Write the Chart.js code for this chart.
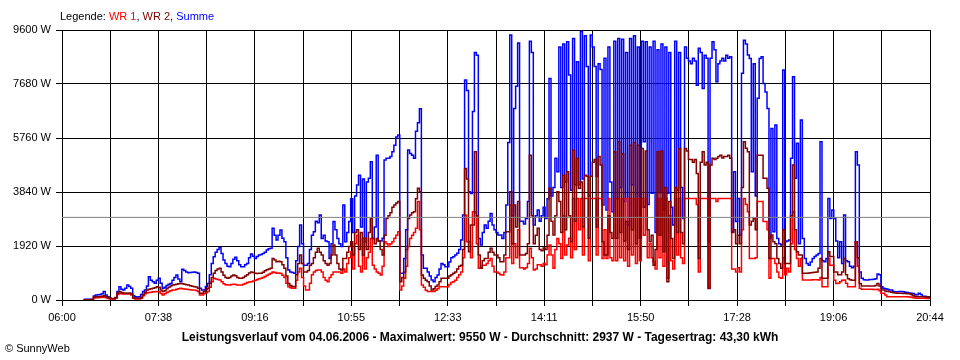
<!DOCTYPE html>
<html>
<head>
<meta charset="utf-8">
<title>Leistungsverlauf 04.06.2006</title>
<script src="https://cdn.jsdelivr.net/npm/chart.js@4/dist/chart.umd.min.js"></script>
<style>
  body { margin: 0; background: #fff; }
  #wrap { position: relative; width: 960px; height: 360px; font-family: 'Liberation Sans', Arial, sans-serif; font-size: 11px; color: #000; }
  #legend { position: absolute; left: 60px; top: 10px; white-space: nowrap; }
  #title { position: absolute; left: 0; top: 330px; width: 960px; text-align: center; font-weight: bold; font-size: 12px; white-space: nowrap; }
  #copy { position: absolute; left: 5px; top: 342px; }
  canvas { position: absolute; left: 0; top: 0; }
</style>
</head>
<body>
<div id="wrap">
  <canvas id="chart" width="960" height="360"></canvas>
  <div id="legend">Legende: <span style="color:#ff0000">WR 1</span>, <span style="color:#800000">WR 2</span>, <span style="color:#0000ff">Summe</span></div>
  <div id="title">Leistungsverlauf vom 04.06.2006 - Maximalwert: 9550 W - Durchschnitt: 2937 W - Tagesertrag: 43,30 kWh</div>
  <div id="copy">&copy; SunnyWeb</div>
</div>
<script>
// minutes after 06:00, one reading every 2 minutes starting 06:22
const startMinute = 22;
const stepMinutes = 2;
const dayMinutes = 884; // 06:00 .. 20:44
const timeLabels = ['06:00', '07:38', '09:16', '10:55', '12:33', '14:11', '15:50', '17:28', '19:06', '20:44'];
const yTicks = [0, 1920, 3840, 5760, 7680, 9600];
const average = 2937;

const summe = [
  25,25,25,30,30,140,180,190,200,220,
  300,180,120,60,40,40,80,300,470,380,
  355,420,530,480,415,150,120,110,120,200,
  300,355,500,830,700,650,600,700,770,600,
  415,450,520,560,590,700,800,890,750,650,
  1090,1050,1000,970,980,990,1000,980,950,415,
  360,355,480,590,900,1300,1540,1700,1800,1870,
  1650,1420,1300,1200,1185,1300,1450,1520,1400,1250,
  1185,1185,1250,1300,1500,1640,1560,1480,1550,1600,
  1620,1650,1700,1780,1820,1840,2550,2300,2130,2300,
  2490,2200,2070,1500,1070,1000,980,950,1400,1900,
  2670,2000,1240,1240,1300,1800,2300,2430,2800,2750,
  3020,2190,2300,2100,2070,1480,2000,2790,2500,2190,
  2000,1900,3380,2070,2400,2790,3600,2400,3700,4090,
  4440,2600,4300,2070,4200,4330,4920,2190,2600,5150,
  2100,2100,2200,4980,5040,5040,5100,5270,5500,5800,
  5870,950,950,1480,2500,5330,5210,5150,5040,6000,
  6300,6800,1600,1125,1125,1000,850,710,650,800,
  890,1100,1300,1250,1185,1185,1350,1500,1540,1600,
  1660,1800,2130,3020,7820,7450,3850,3790,6700,8800,
  8700,2190,1960,2400,2670,2550,2800,3080,2670,2500,
  2400,2310,2310,2190,2400,3380,5600,9420,3000,6810,
  7600,9140,2800,2800,2700,2900,3500,9200,8800,2670,
  3000,3200,2800,3000,3300,2900,3600,7880,3700,4000,
  5040,4560,9000,4000,9100,4200,9180,8000,3900,9300,
  4100,8470,4100,9550,4300,9400,8300,3700,9420,9000,
  8300,4400,8400,8200,3380,8600,3200,9000,4200,3140,
  9200,3600,9300,4000,9270,3500,8800,2670,9300,4100,
  9400,3000,9000,3700,9200,5630,9180,3400,9000,3800,
  9200,2400,8900,3810,9100,3200,9000,3800,8800,3300,
  2670,9200,3900,8800,4000,2900,9000,8600,8500,8400,
  8600,8500,7640,8950,8800,7520,8700,8600,2070,8600,
  9180,8900,7760,8400,8500,8600,8500,8700,8600,8650,
  2430,4560,2790,3610,2310,8060,9240,9100,8710,8590,
  4560,8400,3700,7170,8590,8650,7700,7400,6810,2190,
  6100,2430,6220,2190,2000,1960,8180,2070,2100,2130,
  5040,7940,4330,5570,2000,6400,2190,1480,1300,1240,
  1350,1480,1550,1600,1650,5630,1400,1360,1480,3610,
  2900,3200,2900,2100,1500,2070,1300,3020,1400,1360,
  1200,1150,1200,5270,4800,1000,770,720,710,710,
  730,730,740,760,925,900,475,420,400,380,
  360,355,300,290,290,300,300,290,280,270,
  250,240,230,200,190,237,200,130,130,120,120,110
];

const wr2 = [
  12,12,12,15,15,110,120,120,125,130,
  150,120,90,60,55,55,90,250,300,270,
  250,250,240,250,220,80,60,60,60,100,
  200,280,355,380,400,420,440,470,450,360,
  300,330,400,450,500,530,540,560,580,590,
  580,560,540,530,510,490,470,460,420,240,
  240,300,370,415,600,800,950,1050,1100,1125,
  1000,880,800,770,800,850,890,860,800,770,
  770,800,850,900,960,1000,980,950,940,950,
  950,990,1040,1080,1100,1125,1480,1420,1360,1380,
  1360,1250,1125,850,590,520,480,470,900,1300,
  1600,1300,1000,1000,1050,1240,1300,1500,1700,1840,
  1700,1600,1400,1300,1240,1300,1600,1960,1600,1300,
  1100,1070,1480,1480,1700,1900,2070,1600,2400,2500,
  1800,2400,1600,2200,1800,2400,2900,2190,2000,2190,
  2100,1800,1600,2300,2900,3000,3100,3300,3380,3450,
  3500,650,800,1000,1800,2900,3020,3100,3140,3600,
  3970,3850,890,770,700,650,500,355,400,480,
  530,650,770,770,770,770,850,900,950,1000,
  1100,1200,1240,1800,4680,4300,1720,2670,2670,5270,
  3000,1600,1125,1400,1480,1480,1700,1840,1700,1600,
  1600,1500,1360,1360,1600,2430,2430,3850,2000,3380,
  2600,3500,1600,1600,1600,1650,2000,5150,3000,2000,
  2300,2550,1800,1750,1850,1800,2300,3970,2800,2310,
  3000,3850,3500,2400,4440,2500,4560,3000,2070,5330,
  2800,5040,3970,4200,2600,4440,4400,2200,4400,4900,
  5000,2600,5100,4800,2070,1600,1600,3000,2400,2200,
  5270,2200,5630,2400,5200,2100,2790,1800,5500,2500,
  5600,2000,5500,2200,5390,3300,5300,2500,2070,2300,
  1240,1800,5270,2300,5300,1720,4000,650,3500,2190,
  1480,4000,2400,5390,2400,2000,5390,5300,5000,5000,
  4900,5000,4500,1480,4900,5270,4800,4900,410,4800,
  5040,5000,5040,5100,5150,5050,5100,5100,5150,5040,
  2400,2500,2000,2300,2000,4000,5630,5400,5270,2670,
  2800,2900,2500,5150,5150,5150,4330,4330,3970,1480,
  2310,2070,2000,1480,1300,1125,2500,1300,1300,1300,
  3000,4800,2500,1720,1600,1600,950,950,950,960,
  970,980,990,1000,1125,1480,770,770,770,1720,
  1550,1550,1000,1000,900,900,1000,1480,900,760,
  720,700,700,2070,1500,590,500,500,500,500,
  500,500,500,520,590,500,355,355,320,300,
  290,280,260,250,240,240,240,230,230,220,
  220,200,150,130,120,120,120,120,110,110,100,100
];

const wr1 = [
  10,10,10,12,12,70,80,80,85,90,
  110,80,60,40,35,35,60,200,240,220,
  210,210,213,210,180,60,40,40,40,60,
  150,220,260,270,280,290,290,300,290,230,
  180,220,270,300,330,355,360,380,400,415,
  400,390,380,370,365,360,355,340,300,180,
  180,220,260,300,450,650,770,750,730,710,
  650,580,540,530,530,550,560,550,530,530,
  530,560,590,620,640,650,680,700,730,760,
  770,800,840,880,920,950,1000,980,950,960,
  940,880,800,600,470,440,420,415,700,1000,
  1125,800,500,355,355,600,900,1000,1050,1070,
  1070,1000,800,700,650,800,900,1000,1000,1000,
  1000,950,1100,1000,1300,1500,1720,1100,2000,2300,
  1200,1000,2200,1100,1500,1700,2190,1240,1100,1000,
  950,890,1200,2070,2000,1900,2000,2070,2200,2300,
  2430,355,500,770,1200,1900,2190,2300,2400,2550,
  3500,2500,530,450,350,300,300,300,300,350,
  400,470,470,470,470,470,550,620,650,700,
  800,900,1000,1500,3020,2070,2070,1500,3140,3140,
  2000,1125,1125,1240,1240,1300,1400,1480,1200,1000,
  1000,950,900,890,1000,1500,1500,3380,1300,2000,
  1500,2500,1150,1150,1100,1150,1300,1840,1500,1070,
  1100,1250,1250,1200,1300,1250,1600,1960,1600,1125,
  1800,2190,2000,1480,3000,1600,1960,2200,1500,3610,
  1800,3610,2500,3610,1600,3610,3610,1400,3610,3610,
  3610,1600,3610,3610,1480,2500,1480,3610,1500,1400,
  3610,1400,3610,1500,3610,1400,3610,1200,3610,1600,
  3610,1300,3610,1400,3610,2300,3610,1500,2000,1500,
  1360,1100,3610,1500,3610,1200,3610,770,3000,1400,
  1100,3610,1600,3610,1500,1300,3610,3610,3610,3610,
  3610,3610,3400,1000,3610,3610,3610,3610,415,3610,
  3610,3610,3500,3610,3610,3610,3610,3610,3610,3610,
  1100,1100,1000,1150,1000,2500,3610,3400,3140,1480,
  1480,1480,1500,3500,3500,3500,2790,2790,2500,770,
  1480,1480,1300,1000,800,770,1500,900,1125,1000,
  2000,3140,1800,1480,1200,1480,710,710,710,710,
  710,720,720,720,710,800,470,470,470,1480,
  1240,1240,700,590,600,650,700,710,600,470,
  470,470,470,2070,1200,415,380,380,380,380,
  380,380,370,370,380,330,240,240,180,120,
  120,120,120,120,120,120,120,120,120,120,
  110,100,80,70,60,60,60,60,60,55,50,50
];

Chart.defaults.font.family = "'Liberation Sans', Arial, sans-serif";
Chart.defaults.font.size = 11;
Chart.defaults.color = '#000';

function toPoints(values) {
  return values.map((v, j) => ({ x: startMinute + j * stepMinutes, y: v }));
}

function series(label, values, color) {
  return {
    label: label,
    data: toPoints(values),
    borderColor: color,
    borderWidth: 1.5,
    stepped: true,
    pointRadius: 0,
    fill: false
  };
}

// first dataset is painted last (on top): avg line, WR 2, WR 1, Summe
const datasets = [
  {
    label: 'Durchschnitt',
    data: [{ x: 0, y: average }, { x: dayMinutes, y: average }],
    borderColor: '#808080',
    borderWidth: 1,
    pointRadius: 0
  },
  series('WR 2', wr2, '#800000'),
  series('WR 1', wr1, '#ff0000'),
  series('Summe', summe, '#0000ff')
];

new Chart(document.getElementById('chart'), {
  type: 'line',
  data: { datasets: datasets },
  options: {
    responsive: false,
    animation: false,
    layout: { padding: { top: 30, right: 30, left: 0, bottom: 0 } },
    plugins: { legend: { display: false }, tooltip: { enabled: false } },
    scales: {
      x: {
        type: 'linear',
        min: 0,
        max: dayMinutes,
        afterBuildTicks: axis => {
          const n = (timeLabels.length - 1) * 2;
          axis.ticks = [];
          for (let k = 0; k <= n; k++) axis.ticks.push({ value: k * dayMinutes / n });
        },
        afterFit: axis => { axis.height = 60; },
        grid: { color: '#000', lineWidth: 1, tickLength: 6 },
        border: { color: '#000', width: 1 },
        ticks: {
          autoSkip: false,
          maxRotation: 0,
          padding: 5,
          callback: (v, i) => (i % 2 === 0 ? timeLabels[i / 2] : '')
        }
      },
      y: {
        min: 0,
        max: 9600,
        afterBuildTicks: axis => { axis.ticks = yTicks.map(v => ({ value: v })); },
        afterFit: axis => { axis.width = 62; },
        grid: { color: '#000', lineWidth: 1, tickLength: 6 },
        border: { color: '#000', width: 1 },
        ticks: {
          padding: 5,
          callback: v => v + ' W'
        }
      }
    }
  }
});
</script>
</body>
</html>
